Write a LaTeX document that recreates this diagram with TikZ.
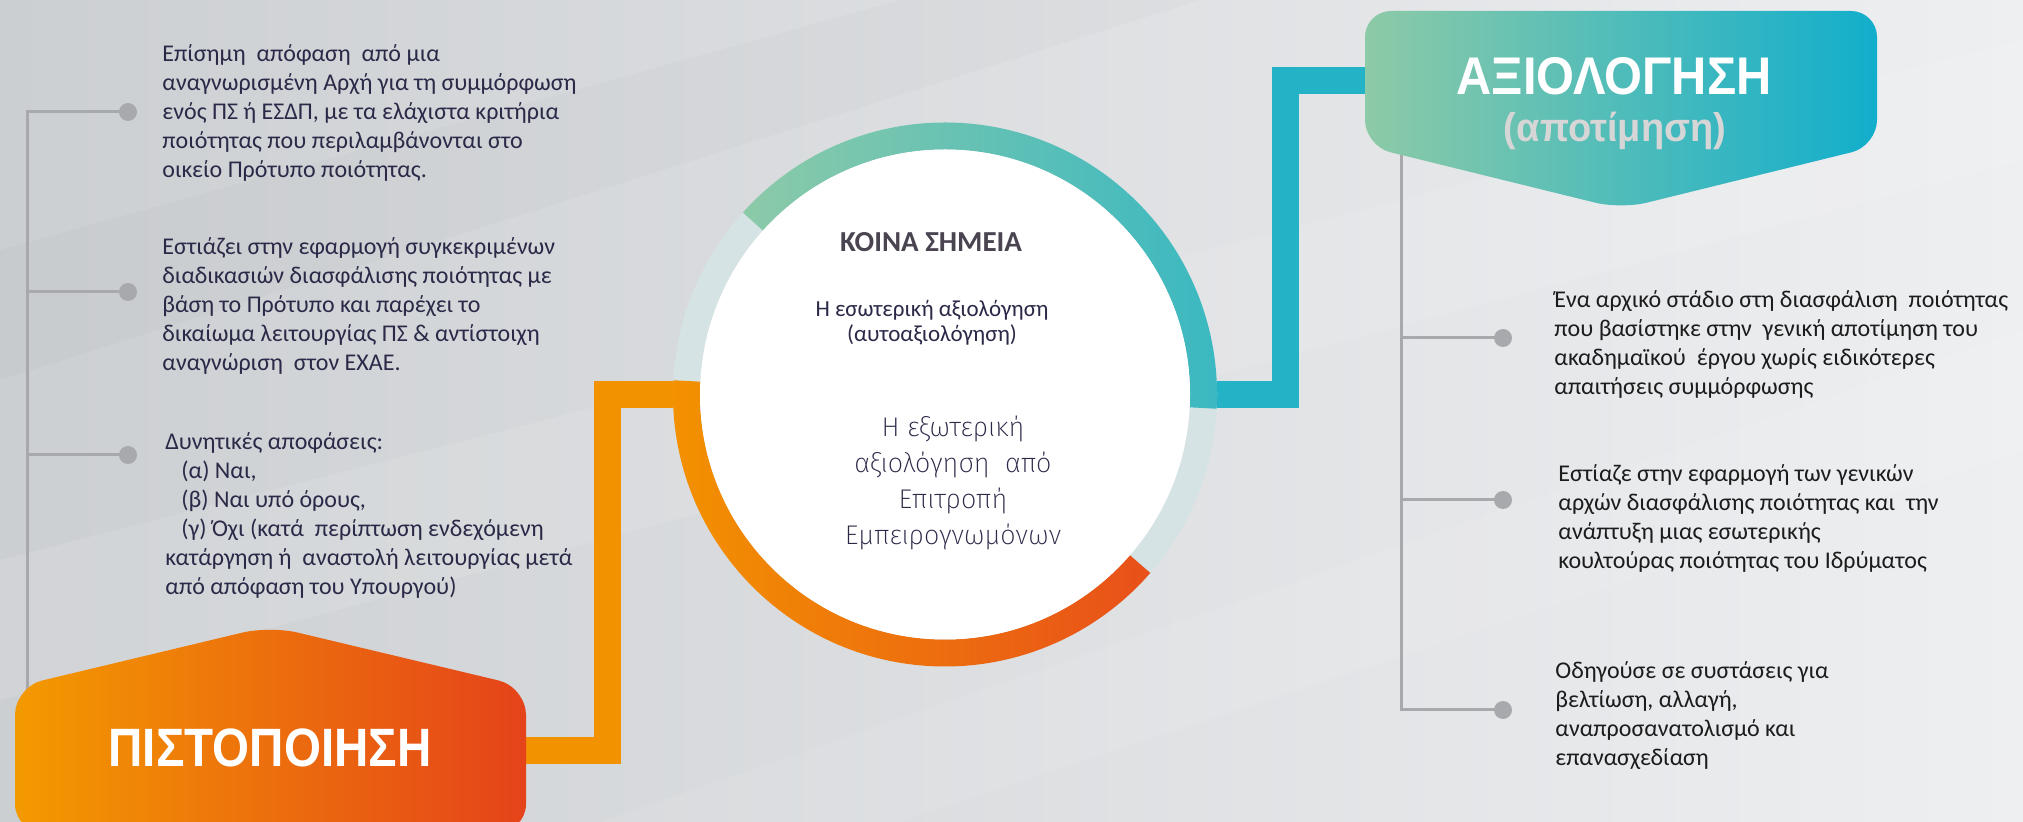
\documentclass[tikz,border=0pt]{standalone}
\usepackage{fontspec}
\setmainfont{Carlito}
\newfontfamily\titlefont{Liberation Sans}
\newfontfamily\thinfont{Fira Sans ExtraLight}
\usetikzlibrary{calc}
\definecolor{bgL}{HTML}{CCCFD2}
\definecolor{bgR}{HTML}{EEEFF1}
\definecolor{lineg}{HTML}{A8A9AD}
\definecolor{navy}{HTML}{2A2948}
\definecolor{darktxt}{HTML}{1C1C1C}
\definecolor{koina}{HTML}{4A4451}
\definecolor{ringlight}{HTML}{D5E3E4}
\definecolor{orangeC}{HTML}{F39200}
\definecolor{orangeR}{HTML}{E8501A}
\definecolor{pistL}{HTML}{F39A00}
\definecolor{pistR}{HTML}{E5431A}
\definecolor{tealC}{HTML}{24B2C6}
\definecolor{arcG}{HTML}{8CCAA8}
\definecolor{arcT}{HTML}{3AB8C1}
\definecolor{axL}{HTML}{8DCAA7}
\definecolor{axR}{HTML}{12AECC}
\definecolor{subgray}{HTML}{D6D6D6}
\begin{document}
\begin{tikzpicture}[x=0.5pt,y=0.5pt,
  grayline/.style={draw=lineg, line width=1.5pt},
  dotg/.style={circle, fill=lineg, inner sep=0pt, minimum size=9pt},
  bodyleft/.style={font=\fontsize{12}{14.5}\selectfont, align=left, anchor=west, inner sep=0pt, text=navy},
  bodyright/.style={font=\fontsize{12}{14.5}\selectfont, align=left, anchor=west, inner sep=0pt, text=darktxt},
  conn/.style={line width=13.5pt},
  titletext/.style={text=white, inner sep=0pt, font=\titlefont\bfseries\fontsize{27}{30}\selectfont}
]
\useasboundingbox (0,0) rectangle (2023,-822);
% background
\shade[left color=bgL, right color=bgR] (0,0) rectangle (2023,-822);
\fill[white, opacity=0.10] (0,-560) -- (2023,-40) -- (2023,-160) -- (0,-700) -- cycle;
\fill[white, opacity=0.08] (600,-822) -- (2023,-330) -- (2023,-450) -- (900,-822) -- cycle;
\fill[black, opacity=0.015] (0,-250) -- (900,0) -- (1200,0) -- (0,-380) -- cycle;

% left gray connectors
\node[dotg] (ld1) at (128,-112) {};
\node[dotg] (ld2) at (128,-292) {};
\node[dotg] (ld3) at (128,-455) {};
\coordinate (lbot) at (27,-720);
\draw[grayline] (ld1.center) -| (lbot);
\draw[grayline] (ld2.center) -- (ld2 -| lbot);
\draw[grayline] (ld3.center) -- (ld3 -| lbot);

% right gray connectors
\node[dotg] (rd1) at (1503,-338) {};
\node[dotg] (rd2) at (1503,-500) {};
\node[dotg] (rd3) at (1503,-710) {};
\coordinate (rtop) at (1401,-150);
\draw[grayline] (rtop) |- (rd3.center);
\draw[grayline] (rd1.center) -- (rd1 -| rtop);
\draw[grayline] (rd2.center) -- (rd2 -| rtop);

% thick connectors
\coordinate (cc) at (945,-394.5);
\coordinate (pistE) at (520,-750);
\coordinate (obar) at (607.5,-394.5);
\coordinate (circL) at (690,-394.5);
\coordinate (circR) at (1200,-394.5);
\coordinate (tbar) at (1285.5,-80.5);
\coordinate (axW) at (1375,-80.5);
\draw[conn, draw=orangeC] (pistE) -| (obar) -- (circL);
\draw[conn, draw=tealC] (circR) -| (tbar) -- (axW);

% ring
\draw[draw=ringlight, line width=13.5pt] (cc) circle[radius=258.5];
\shade[left color=arcG, right color=arcT]
  ($(cc)+(138:272)$) arc[start angle=138, end angle=-3, radius=272]
  -- ($(cc)+(-3:245)$) arc[start angle=-3, end angle=138, radius=245] -- cycle;
\shade[left color=orangeC, right color=orangeR]
  ($(cc)+(177:272)$) arc[start angle=177, end angle=319, radius=272]
  -- ($(cc)+(319:245)$) arc[start angle=319, end angle=177, radius=245] -- cycle;
\node[circle, fill=white, minimum size=245pt, inner sep=0pt] (circ) at (cc) {};

% boxes
\shade[left color=pistL, right color=pistR, rounded corners=14pt]
  (15,-760) -- (15,-687) -- (270,-626) -- (526,-687) -- (526,-832) -- (15,-832) -- cycle;
\node[titletext] (pist) at (270,-747.5) {\scalebox{0.88}[1]{ΠΙΣΤΟΠΟΙΗΣΗ}};

\shade[left color=axL, right color=axR, rounded corners=13pt]
  (1365,-80) -- (1365,-11) -- (1877,-11) -- (1877,-146) -- (1621,-209) -- (1365,-146) -- cycle;
\node[titletext, font=\titlefont\bfseries\fontsize{26.5}{30}\selectfont] (axt) at (1614,-76) {\scalebox{0.92}[1]{ΑΞΙΟΛΟΓΗΣΗ}};
\node[text=subgray, inner sep=0pt, font=\titlefont\bfseries\fontsize{20}{24}\selectfont] (axs) at (1615,-131) {\scalebox{0.95}[1]{(αποτίμηση)}};

% centre texts
\node[font=\bfseries\fontsize{14.5}{17}\selectfont, text=koina, inner sep=0pt] (koinat) at (931,-242) {ΚΟΙΝΑ ΣΗΜΕΙΑ};
\node[font=\fontsize{11.5}{12.5}\selectfont, align=center, text=navy, inner sep=0pt] (esw) at (932,-322.5) {Η εσωτερική αξιολόγηση\\(αυτοαξιολόγηση)};
\node[font=\thinfont\fontsize{13.5}{18}\selectfont, align=center, text=navy, inner sep=0pt] (exw) at (953,-482.5) {Η εξωτερική\\αξιολόγηση~ από\\Επιτροπή\\Εμπειρογνωμόνων};

% left texts
\node[bodyleft] (lt1) at (162,-112.5) {Επίσημη~ απόφαση~ από μια\\αναγνωρισμένη Αρχή για τη συμμόρφωση\\ενός ΠΣ ή ΕΣΔΠ, με τα ελάχιστα κριτήρια\\ποιότητας που περιλαμβάνονται στο\\οικείο Πρότυπο ποιότητας.};
\node[bodyleft] (lt2) at (162,-305.5) {Εστιάζει στην εφαρμογή συγκεκριμένων\\διαδικασιών διασφάλισης ποιότητας με\\βάση το Πρότυπο και παρέχει το\\δικαίωμα λειτουργίας ΠΣ \& αντίστοιχη\\αναγνώριση~ στον ΕΧΑΕ.};
\node[bodyleft] (lt3) at (165,-515) {Δυνητικές αποφάσεις:\\\hspace*{8pt}(α) Ναι,\\\hspace*{8pt}(β) Ναι υπό όρους,\\\hspace*{8pt}(γ) Όχι (κατά~ περίπτωση ενδεχόμενη\\κατάργηση ή~ αναστολή λειτουργίας μετά\\από απόφαση του Υπουργού)};

% right texts
\node[bodyright] (rt1) at (1554,-344.5) {Ένα αρχικό στάδιο στη διασφάλιση~ ποιότητας\\που βασίστηκε στην~ γενική αποτίμηση του\\ακαδημαϊκού~ έργου χωρίς ειδικότερες\\απαιτήσεις συμμόρφωσης};
\node[bodyright] (rt2) at (1558,-518.5) {Εστίαζε στην εφαρμογή των γενικών\\αρχών διασφάλισης ποιότητας και~ την\\ανάπτυξη μιας εσωτερικής\\κουλτούρας ποιότητας του Ιδρύματος};
\node[bodyright] (rt3) at (1555,-716) {Οδηγούσε σε συστάσεις για\\βελτίωση, αλλαγή,\\αναπροσανατολισμό και\\επανασχεδίαση};
\end{tikzpicture}
\end{document}
